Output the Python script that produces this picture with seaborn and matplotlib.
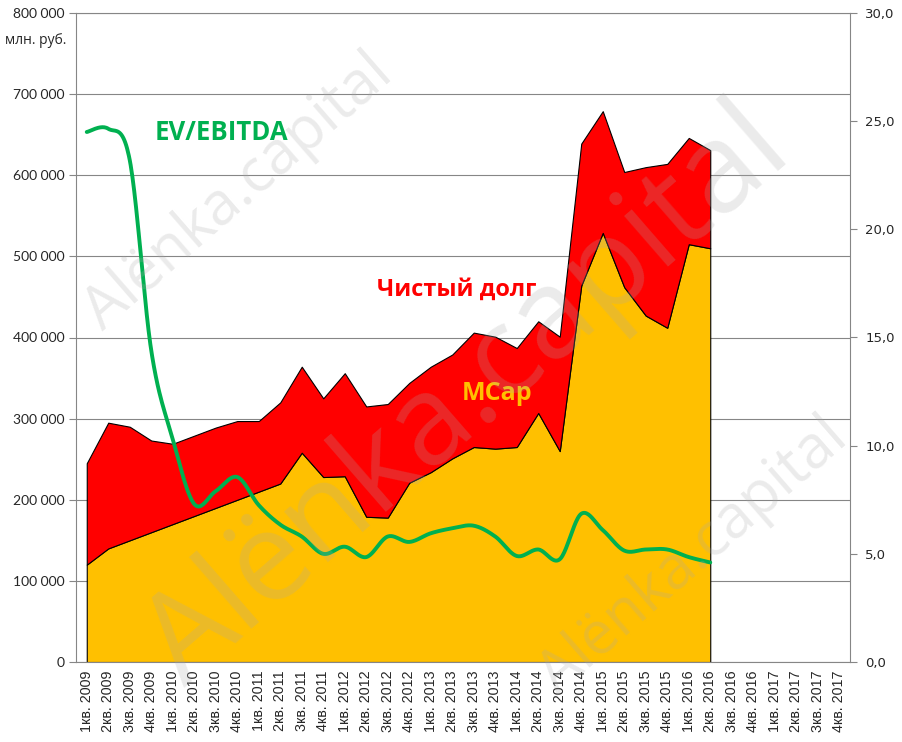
import numpy as np
import pandas as pd
import matplotlib
matplotlib.use("Agg")
import matplotlib.pyplot as plt
import seaborn as sns
from matplotlib.ticker import FuncFormatter, FixedLocator

# ---------------- data ----------------
quarters = [f"{q}кв. {y}" for y in range(2009, 2018) for q in range(1, 5)]

mcap = [120000, 140000, 150000, 160000, 170000, 180000, 190000, 200000, 210000, 220000,
        258000, 228000, 229000, 179000, 178000, 221000, 234000, 251000, 265000, 263000,
        265000, 307000, 260000, 464000, 529000, 462000, 427000, 412000, 515000, 510000]

net_debt = [125000, 155000, 140000, 113000, 99000, 99000, 99000, 97000, 87000, 100000,
            106000, 97000, 127000, 136000, 140000, 123000, 130000, 128000, 141000, 138000,
            122000, 113000, 141000, 175000, 150000, 142000, 183000, 202000, 131000, 121000]

ev_ebitda = [24.5, 24.65, 23.2, 14.4, 10.3, 7.3, 7.9, 8.55, 7.25, 6.35,
             5.8, 5.0, 5.33, 4.85, 5.8, 5.55, 5.95, 6.18, 6.3, 5.8,
             4.9, 5.2, 4.75, 6.85, 6.1, 5.15, 5.2, 5.2, 4.85, 4.6]

left_ticks = [0, 100000, 200000, 300000, 400000, 500000, 600000, 700000, 800000]
right_ticks = [0, 5, 10, 15, 20, 25, 30]

df = pd.DataFrame({"q": quarters[:len(mcap)], "mcap": mcap, "debt": net_debt, "ev": ev_ebitda})
df["pos"] = np.arange(len(df))
df["total"] = df["mcap"] + df["debt"]

# ---------------- style ----------------
sns.set_style("white")
plt.rcParams["font.family"] = ["Liberation Sans", "DejaVu Sans"]

W, H = 903, 742
fig = plt.figure(figsize=(W / 100, H / 100), dpi=100)
L, R, T, B = 76, 850, 13, 662
ax = fig.add_axes([L / W, 1 - B / H, (R - L) / W, (B - T) / H])

GRAY = "#868686"

# stacked areas
ax.fill_between(df["pos"], 0, df["mcap"], facecolor="#FFC000", edgecolor="black", lw=0.8, zorder=2)
ax.fill_between(df["pos"], df["mcap"], df["total"], facecolor="#FF0000", edgecolor="black", lw=0.8, zorder=2)

ax.set_xlim(-0.5, len(quarters) - 0.5)
ax.set_ylim(0, 800000)
ax.yaxis.set_major_locator(FixedLocator(left_ticks))
ax.yaxis.set_major_formatter(FuncFormatter(lambda v, p: f"{int(v):,}".replace(",", " ")))
ax.grid(axis="y", color=GRAY, lw=0.8, zorder=0)
ax.grid(axis="x", visible=False)
ax.set_axisbelow(True)

ax.set_xticks(np.arange(len(quarters)))
ax.set_xticklabels(quarters, rotation=90, fontsize=10.3, family="Liberation Sans")
ax.set_xticks(np.arange(-0.5, len(quarters)), minor=True)
ax.tick_params(axis="x", which="major", length=0, pad=6)
ax.tick_params(axis="x", which="minor", length=5, color=GRAY, width=0.8, direction="out")
ax.tick_params(axis="y", length=5, color=GRAY, width=0.8, direction="out", labelsize=10, pad=3)
for lab in ax.get_yticklabels():
    lab.set_family(["Lato", "DejaVu Sans"])

for s in ["left", "bottom", "top"]:
    ax.spines[s].set_color(GRAY)
    ax.spines[s].set_linewidth(0.8)
ax.spines["right"].set_visible(False)
ax.set_xlabel("")
ax.set_ylabel("")

# secondary axis with EV/EBITDA (smoothed line through the data points)
ax2 = ax.twinx()
ax2.set_ylim(0, 30)
ax2.yaxis.set_major_locator(FixedLocator(right_ticks))
ax2.yaxis.set_major_formatter(FuncFormatter(lambda v, p: f"{v:.1f}".replace(".", ",")))
ax2.tick_params(axis="y", length=5, color=GRAY, width=0.8, direction="out", labelsize=9.5, pad=6)
for lab in ax2.get_yticklabels():
    lab.set_family("DejaVu Sans")
for s in ["left", "bottom", "top"]:
    ax2.spines[s].set_visible(False)
ax2.spines["right"].set_color(GRAY)
ax2.spines["right"].set_linewidth(0.8)


def smooth(xv, yv, n=24):
    xv = np.asarray(xv, float)
    yv = np.asarray(yv, float)
    xp = np.concatenate([[xv[0]], xv, [xv[-1]]])
    yp = np.concatenate([[yv[0]], yv, [yv[-1]]])
    xs, ys = [], []
    for i in range(1, len(xp) - 2):
        t = np.linspace(0, 1, n, endpoint=False)
        for arr, out in ((xp, xs), (yp, ys)):
            p0, p1, p2, p3 = arr[i - 1], arr[i], arr[i + 1], arr[i + 2]
            out.extend(0.5 * ((2 * p1) + (-p0 + p2) * t + (2 * p0 - 5 * p1 + 4 * p2 - p3) * t ** 2
                              + (-p0 + 3 * p1 - 3 * p2 + p3) * t ** 3))
    xs.append(xv[-1])
    ys.append(yv[-1])
    return np.array(xs), np.array(ys)


sx, sy = smooth(df["pos"], df["ev"])
sns.lineplot(x=sx, y=sy, ax=ax2, color="#00B050", lw=2.8, sort=False, estimator=None, zorder=5)
ax2.set_xlim(-0.5, len(quarters) - 0.5)
ax2.set_ylabel("")

# labels
fig.text(5 / W, 1 - 40 / H, "млн. руб.", fontsize=10, family=["Open Sans", "DejaVu Sans"], ha="left", va="center")
fig.text(221 / W, 1 - 133 / H, "EV/EBITDA", fontsize=18.5, fontweight="bold", color="#00B050",
         family=["Open Sans", "DejaVu Sans"], ha="center", va="center")
fig.text(457 / W, 1 - 290 / H, "Чистый долг", fontsize=17, fontweight="bold", color="#FF0000",
         family=["Open Sans", "DejaVu Sans"], ha="center", va="center")
fig.text(497 / W, 1 - 393 / H, "MCap", fontsize=18, fontweight="bold", color="#FFC000",
         family=["Open Sans", "DejaVu Sans"], ha="center", va="center", zorder=6)

# watermarks
wm = "Alënka.capital"
for (cx, cy, fs) in [(238, 192, 43), (468, 398, 90), (693, 556, 43)]:
    fig.text(cx / W, 1 - cy / H, wm, fontsize=fs, color="#AAAAAA", alpha=0.24,
             rotation=41, rotation_mode="anchor", ha="center", va="center",
             family=["Open Sans", "DejaVu Sans"], zorder=10)

fig.savefig("out.png", dpi=100)
